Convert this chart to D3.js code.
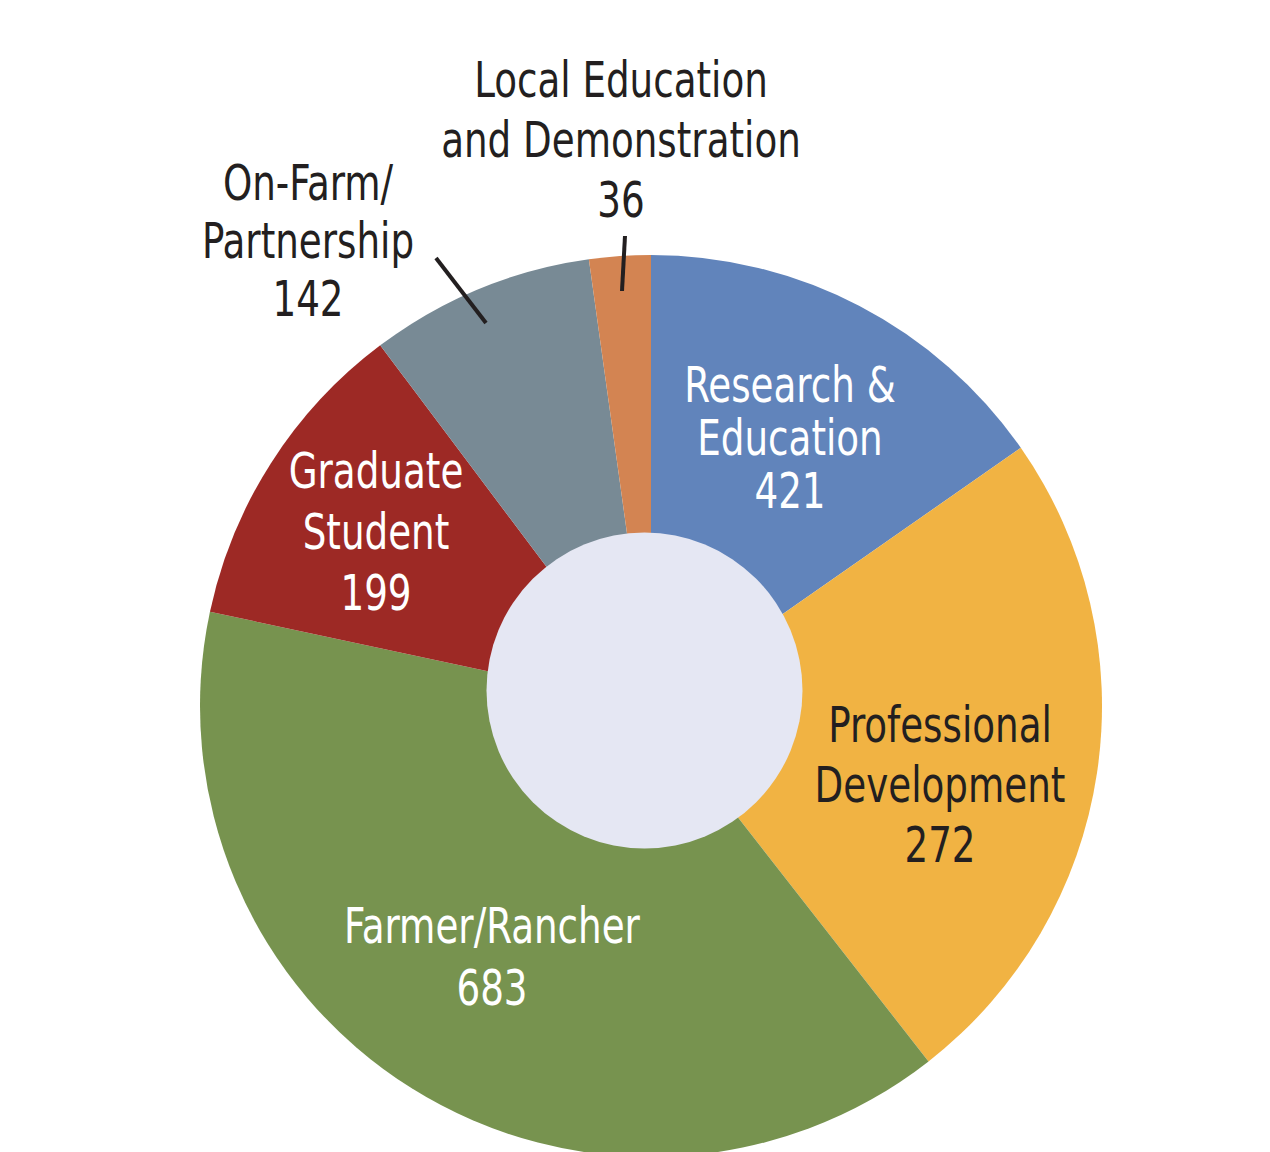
<!DOCTYPE html>
<html>
<head>
<meta charset="utf-8">
<script src="https://cdn.jsdelivr.net/npm/d3@7"></script>
<style>
  html, body { margin: 0; padding: 0; background: #ffffff; }
  svg { display: block; }
  text { font-family: "Liberation Sans Narrow", "Arial Narrow", "DejaVu Sans Condensed", sans-serif; }
</style>
</head>
<body>
<svg id="chart" width="1270" height="1152"></svg>
<script>
// ---- data ----
const categories = ["Research & Education", "Professional Development", "Farmer/Rancher", "Graduate Student", "On-Farm/ Partnership", "Local Education and Demonstration"];
const counts = [421, 272, 683, 199, 142, 36];            // numbers printed in labels
const sliceShares = [15.3, 24.15, 38.9, 11.4, 8.05, 2.2]; // share of the ring (%)
const labelLines = [
  ["Research &", "Education"],
  ["Professional", "Development"],
  ["Farmer/Rancher"],
  ["Graduate", "Student"],
  ["On-Farm/", "Partnership"],
  ["Local Education", "and Demonstration"]
];

// ---- styles / layout ----
const colors = ["#6184bb", "#f1b343", "#77934f", "#9d2925", "#788a95", "#d38452"];
const textColors = ["#ffffff", "#231f20", "#ffffff", "#ffffff", "#231f20", "#231f20"];
const labelPos = [
  { x: 790, y: 402, dy: 53 },
  { x: 940, y: 742, dy: 60 },
  { x: 492, y: 943, dy: 62 },
  { x: 376, y: 488, dy: 61 },
  { x: 308, y: 200, dy: 58 },
  { x: 621, y: 97,  dy: 60 }
];
const leaders = [
  { i: 5, x1: 625, y1: 236, x2: 622, y2: 291 },
  { i: 4, x1: 436, y1: 258, x2: 486, y2: 323 }
];
const cx = 651, cy = 706, R = 451;
const hole = { x: 644.5, y: 690.5, r: 158 };
const squeeze = 0.845; // horizontal condensing of the label font

const svg = d3.select("#chart");
const data = categories.map((c, i) => ({ category: c, share: sliceShares[i], count: counts[i], i }));

const pie = d3.pie().sort(null).value(d => d.share);
const arc = d3.arc().innerRadius(0).outerRadius(R);

const g = svg.append("g").attr("transform", `translate(${cx},${cy})`);
g.selectAll("path")
  .data(pie(data))
  .join("path")
  .attr("d", arc)
  .attr("fill", d => colors[d.data.i]);

svg.append("circle")
  .attr("cx", hole.x).attr("cy", hole.y).attr("r", hole.r)
  .attr("fill", "#e5e7f3");

svg.selectAll("line.leader")
  .data(leaders)
  .join("line")
  .attr("class", "leader")
  .attr("x1", d => d.x1).attr("y1", d => d.y1)
  .attr("x2", d => d.x2).attr("y2", d => d.y2)
  .attr("stroke", "#231f20")
  .attr("stroke-width", 4);

const labels = svg.selectAll("text.lbl")
  .data(data)
  .join("text")
  .attr("class", "lbl")
  .attr("text-anchor", "middle")
  .attr("font-size", 49)
  .attr("transform", d => `translate(${labelPos[d.i].x},${labelPos[d.i].y}) scale(${squeeze},1)`)
  .attr("fill", d => textColors[d.i]);

labels.each(function(d) {
  const p = labelPos[d.i];
  const lines = labelLines[d.i].concat([String(d.count)]);
  d3.select(this).selectAll("tspan")
    .data(lines)
    .join("tspan")
    .attr("x", 0)
    .attr("y", (l, k) => k * p.dy)
    .text(l => l);
});
</script>
</body>
</html>
